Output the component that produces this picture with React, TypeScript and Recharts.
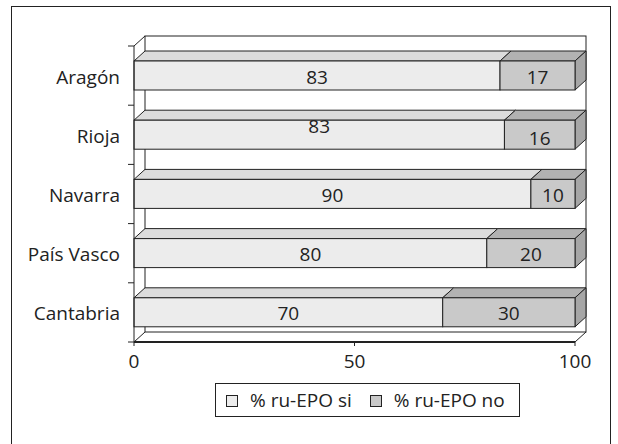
import React from 'react';
import { Bar, BarChart, LabelList, XAxis, YAxis } from 'recharts';

const categories = ['Aragón', 'Rioja', 'Navarra', 'País Vasco', 'Cantabria'];
const siValues = [83, 84, 90, 80, 70];
const siLabels = ['83', '83', '90', '80', '70'];
const noValues = [17, 16, 10, 20, 30];
const noLabels = ['17', '16', '10', '20', '30'];
const seriesNames = ['% ru-EPO si', '% ru-EPO no'];
const xTicks = [0, 50, 100];

const data = categories.map((name, i) => ({
  name,
  si: siValues[i],
  siLabel: siLabels[i],
  no: noValues[i],
  noLabel: noLabels[i],
}));

// layout of the plot (front plane) and the 3d depth
const W = 618;
const H = 444;
const PLOT_L = 134;
const PLOT_R = 575;
const PLOT_T = 46;
const PLOT_B = 342;
const DX = 11;
const DY = 10;
const BAND = (PLOT_B - PLOT_T) / categories.length;

const INK = '#222';
const FONT = '"Open Sans", sans-serif';
const FS = 19;

const colors = {
  si: { front: '#ececec', top: '#dcdcdc', side: '#c4c4c4' },
  no: { front: '#c9c9c9', top: '#b2b2b2', side: '#a6a6a6' },
};

const Bar3D = (props: any) => {
  const { x, y, width, height, pal, last } = props;
  if (width == null || height == null) return null;
  return (
    <g>
      <polygon
        points={`${x},${y} ${x + width},${y} ${x + width + DX},${y - DY} ${x + DX},${y - DY}`}
        fill={pal.top}
        stroke={INK}
        strokeWidth={1}
      />
      {last && (
        <polygon
          points={`${x + width},${y} ${x + width + DX},${y - DY} ${x + width + DX},${y + height - DY} ${x + width},${y + height}`}
          fill={pal.side}
          stroke={INK}
          strokeWidth={1}
        />
      )}
      <rect x={x} y={y} width={width} height={height} fill={pal.front} stroke={INK} strokeWidth={1} />
    </g>
  );
};

const makeLabel = (key: 'siLabel' | 'noLabel') => (props: any) => {
  const vb = props.viewBox || props;
  const { x, y, width, height } = vb;
  const row = data[props.index];
  if (!row) return null;
  // the Rioja "si" label sits high in the original
  let shift = 1;
  if (row.name === 'Rioja') shift = key === 'siLabel' ? -9 : 3;
  return (
    <text
      x={x + width / 2}
      y={y + height / 2 + shift}
      textAnchor="middle"
      dominantBaseline="central"
      fill={INK}
      fontSize={FS}
      fontFamily={FONT}
    >
      {row[key]}
    </text>
  );
};

const CategoryTick = (props: any) => {
  const { x, y, payload, index } = props;
  const isLast = index === categories.length - 1;
  return (
    <g>
      <line x1={PLOT_L - 6} x2={PLOT_L} y1={y - BAND / 2} y2={y - BAND / 2} stroke={INK} />
      {isLast && <line x1={PLOT_L - 6} x2={PLOT_L} y1={y + BAND / 2} y2={y + BAND / 2} stroke={INK} />}
      <text x={x} y={y + 1} textAnchor="end" dominantBaseline="central" fill={INK} fontSize={FS} fontFamily={FONT}>
        {payload.value}
      </text>
    </g>
  );
};

const Walls = () => (
  <svg width={W} height={H} style={{ position: 'absolute', left: 0, top: 0 }}>
    <rect x={PLOT_L + DX} y={PLOT_T - DY} width={PLOT_R - PLOT_L} height={PLOT_B - PLOT_T} fill="#fff" stroke={INK} strokeWidth={1} />
    <line x1={PLOT_L} y1={PLOT_T} x2={PLOT_L + DX} y2={PLOT_T - DY} stroke={INK} />
    <line x1={PLOT_L} y1={PLOT_B} x2={PLOT_L + DX} y2={PLOT_B - DY} stroke={INK} />
    <line x1={PLOT_R} y1={PLOT_B} x2={PLOT_R + DX} y2={PLOT_B - DY} stroke={INK} />
  </svg>
);

const Swatch = ({ fill }: { fill: string }) => (
  <span
    style={{
      display: 'inline-block',
      width: 10,
      height: 10,
      border: `1px solid ${INK}`,
      background: fill,
      marginRight: 12,
      position: 'relative',
      top: 1,
    }}
  />
);

export default function App() {
  return (
    <div style={{ position: 'absolute', left: 0, top: 0, width: W, height: H, background: '#fff', fontFamily: FONT, overflow: 'hidden' }}>
      <div
        style={{
          position: 'absolute',
          left: 11,
          top: 6,
          width: 598,
          height: 470,
          border: `1.5px solid ${INK}`,
        }}
      />
      <Walls />
      <div style={{ position: 'absolute', left: 0, top: 0 }}>
        <BarChart
          width={W}
          height={H}
          data={data}
          layout="vertical"
          barSize={29}
          margin={{ top: PLOT_T, right: W - PLOT_R, bottom: H - PLOT_B - 30, left: PLOT_L - 124 }}
        >
          <XAxis
            type="number"
            domain={[0, 100]}
            ticks={xTicks}
            height={30}
            axisLine={{ stroke: INK, strokeWidth: 2 }}
            tickLine={{ stroke: INK }}
            tickSize={4}
            tickMargin={9}
            tick={{ fill: INK, fontSize: FS, fontFamily: FONT }}
          />
          <YAxis
            type="category"
            dataKey="name"
            width={124}
            axisLine={{ stroke: INK }}
            tickLine={false}
            tickSize={6}
            tickMargin={8}
            tick={<CategoryTick />}
          />
          <Bar
            dataKey="si"
            stackId="a"
            name={seriesNames[0]}
            isAnimationActive={false}
            shape={(p: any) => <Bar3D {...p} pal={colors.si} last={false} />}
          >
            <LabelList dataKey="siLabel" content={makeLabel('siLabel')} />
          </Bar>
          <Bar
            dataKey="no"
            stackId="a"
            name={seriesNames[1]}
            isAnimationActive={false}
            shape={(p: any) => <Bar3D {...p} pal={colors.no} last={true} />}
          >
            <LabelList dataKey="noLabel" content={makeLabel('noLabel')} />
          </Bar>
        </BarChart>
      </div>
      <div
        style={{
          position: 'absolute',
          left: 215,
          top: 383,
          height: 32,
          padding: '0 14px 0 10px',
          border: `1.5px solid ${INK}`,
          display: 'flex',
          alignItems: 'center',
          fontSize: FS,
          color: INK,
          whiteSpace: 'nowrap',
          background: '#fff',
        }}
      >
        <Swatch fill={colors.si.front} />
        <span style={{ marginRight: 18 }}>{seriesNames[0]}</span>
        <Swatch fill={colors.no.front} />
        <span>{seriesNames[1]}</span>
      </div>
    </div>
  );
}
